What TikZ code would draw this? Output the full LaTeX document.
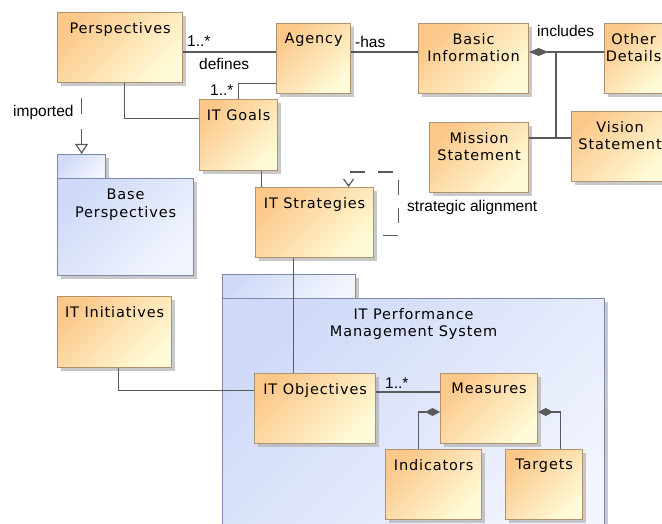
\documentclass[tikz,border=0pt]{standalone}
\usepackage{fontspec}
\setmainfont[LetterSpace=6]{DejaVu Sans}
\newfontfamily\lblfont{Liberation Sans}
\usetikzlibrary{arrows.meta,shadows}
\definecolor{clsorange}{HTML}{FCC88A}
\definecolor{clsyellow}{HTML}{FFFBD8}
\definecolor{clsborder}{HTML}{B0936E}
\definecolor{pkgblue}{HTML}{D0DAF8}
\definecolor{pkglight}{HTML}{F2F5FE}
\definecolor{pkgborder}{HTML}{7C88A8}
\definecolor{wire}{HTML}{5A5A5A}

\tikzset{
  boxsize/.style 2 args={minimum width=#1pt, minimum height=#2pt},
  cls/.style={draw=clsborder, line width=1.2pt, top color=clsorange, bottom color=clsyellow,
    shading angle=45, inner sep=0pt, anchor=north west,
    drop shadow={shadow xshift=3pt, shadow yshift=-3pt, fill=black!30, opacity=0.7}},
  pkg/.style={cls, draw=pkgborder, top color=pkgblue, bottom color=pkglight, shading angle=45},
  title/.style={anchor=north, inner sep=0pt, align=center, font=\fontsize{14.5}{17.5}\selectfont},
  lbl/.style={anchor=base west, inner sep=0pt, font=\lblfont\fontsize{15.5}{18}\selectfont},
  wire/.style={draw=wire, line width=1.2pt},
}

\begin{document}
\begin{tikzpicture}[x=1pt, y=-1pt]
\useasboundingbox (0,0) rectangle (662,524);
\clip (0,0) rectangle (662,524);
% packages
\node[pkg, boxsize={48}{24}] (basetab) at (57,154) {};
\node[pkg, boxsize={136}{97}] (base) at (57,178) {};
\node[title] (base-t) at ([yshift=-11pt]base.north) {Base\\Perspectives};
\node[pkg, boxsize={133}{24}] (pmstab) at (222,274) {};
\node[pkg, boxsize={382}{260}] (pms) at (222,298) {};
\node[title] (pms-t) at ([yshift=-10pt]pms.north) {IT Performance\\Management System};
% classes
\node[cls, boxsize={125}{70}] (persp) at (57,12) {};
\node[title] (persp-t) at ([yshift=-10pt]persp.north) {Perspectives};
\node[cls, boxsize={74}{70}] (agency) at (276,23) {};
\node[title] (agency-t) at ([yshift=-10pt]agency.north) {Agency};
\node[cls, boxsize={78}{71}] (goals) at (199,99) {};
\node[title] (goals-t) at ([yshift=-10pt]goals.north) {IT Goals};
\node[cls, boxsize={118}{70}] (strat) at (255,187) {};
\node[title] (strat-t) at ([yshift=-10pt]strat.north) {IT Strategies};
\node[cls, boxsize={110}{70}] (basic) at (418,23) {};
\node[title] (basic-t) at ([yshift=-10pt]basic.north) {Basic\\Information};
\node[cls, boxsize={64}{70}] (other) at (604,23) {};
\node[title] (other-t) at ([xshift=-3pt, yshift=-10pt]other.north) {Other\\Details};
\node[cls, boxsize={97}{70}] (vision) at (571,111) {};
\node[title] (vision-t) at ([yshift=-10pt]vision.north) {Vision\\Statement};
\node[cls, boxsize={99}{70}] (mission) at (429,122) {};
\node[title] (mission-t) at ([yshift=-10pt]mission.north) {Mission\\Statement};
\node[cls, boxsize={114}{71}] (init) at (57,296) {};
\node[title] (init-t) at ([yshift=-10pt]init.north) {IT Initiatives};
\node[cls, boxsize={121}{70}] (obj) at (254,373) {};
\node[title] (obj-t) at ([yshift=-10pt]obj.north) {IT Objectives};
\node[cls, boxsize={97}{70}] (meas) at (440,373) {};
\node[title] (meas-t) at ([yshift=-10pt]meas.north) {Measures};
\node[cls, boxsize={96}{70}] (ind) at (385,449) {};
\node[title] (ind-t) at ([yshift=-10pt]ind.north) {Indicators};
\node[cls, boxsize={77}{70}] (targ) at (505,449) {};
\node[title] (targ-t) at ([yshift=-10pt]targ.north) {Targets};
% wires
\coordinate (r1) at (0,52);
\coordinate (r2) at (0,392);
\coordinate (r3) at (0,412);
\coordinate (j1) at (556,52);
\coordinate (j2) at (556,138);
\draw[wire] (persp.east |- r1) -- (agency.west |- r1);
\node[lbl] (persp-m) at (187,47) {1..*};
\node[lbl] (defines) at (199,70) {defines};
\draw[wire] ([yshift=-25pt]agency.west) -| (goals.north);
\node[lbl] (goals-m) at (210,96) {1..*};
\draw[wire] ([xshift=4pt]persp.south) |- ([yshift=16.5pt]goals.west);
\draw[wire, dash pattern=on 16pt off 15pt, dash phase=16pt,
  -{Triangle[open, fill=white, length=10pt, width=13pt]}] (persp.south -| basetab.north) -- (basetab.north);
\node[lbl] (imported) at (13,117) {imported};
\draw[wire] ([xshift=23pt]goals.south) -- ([xshift=-53pt]strat.north);
\draw[wire, dash pattern=on 15pt off 13pt, dash phase=19pt,
  -{Straight Barb[length=7pt, width=10pt]}]
  ([yshift=-13pt]strat.east) -- ++(24,0) |- ([xshift=34pt, yshift=15pt]strat.north) -- ([xshift=34pt]strat.north);
\node[lbl] (align) at (407,212) {strategic alignment};
\draw[wire] (agency.east |- r1) -- (basic.west |- r1);
\node[lbl] (has) at (355,48) {-has};
\draw[wire, {Diamond[length=19pt, width=8pt]}-] (basic.east |- r1) -- (other.west |- r1);
\node[lbl] (includes) at (537,37) {includes};
\draw[wire] (j1) -- (j2);
\draw[wire] (mission.east |- j2) -- (vision.west |- j2);
\draw[wire] ([xshift=-21pt]strat.south) -- ([xshift=-21.5pt]obj.north);
\draw[wire] ([xshift=4pt]init.south) |- ([yshift=18pt]obj.west);
\draw[wire] (obj.east |- r2) -- (meas.west |- r2);
\node[lbl] (meas-m) at (385,388) {1..*};
\draw[wire, {Diamond[length=15pt, width=8pt]}-] (meas.west |- r3) -| ([xshift=-15pt]ind.north);
\draw[wire, {Diamond[length=15pt, width=8pt]}-] (meas.east |- r3) -| ([xshift=16.5pt]targ.north);
\end{tikzpicture}
\end{document}
